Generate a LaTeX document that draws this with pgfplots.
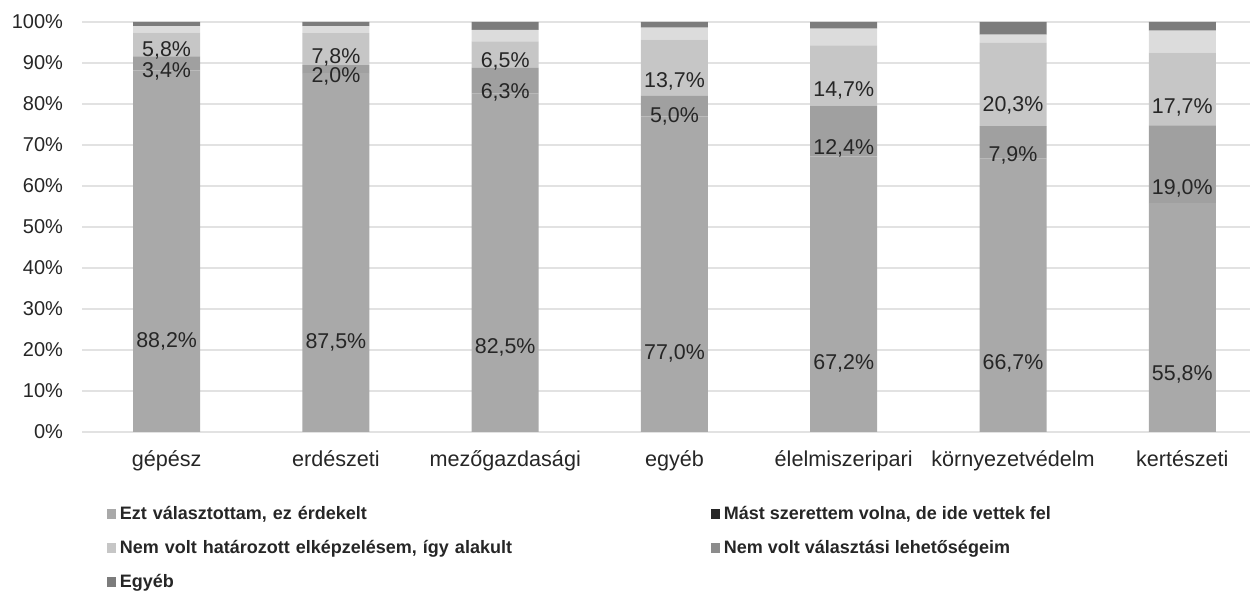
\documentclass[border=0pt]{standalone}
\usepackage{pgfplots}
\pgfplotsset{compat=1.18}
\usepackage{fontspec}
\setmainfont{Liberation Sans}
\definecolor{cA}{HTML}{A9A9A9}
\definecolor{cB}{HTML}{A0A0A0}
\definecolor{cC}{HTML}{C6C6C6}
\definecolor{cD}{HTML}{DCDCDC}
\definecolor{cE}{HTML}{7C7C7C}
\definecolor{gridc}{HTML}{E2E2E2}
\definecolor{txt}{HTML}{262626}
\begin{document}
\begin{tikzpicture}
\begin{axis}[
  name=ax,
  scale only axis,
  width=584pt, height=205pt,
  ybar stacked,
  bar width=33.5pt,
  xmin=-0.5, xmax=6.4,
  ymin=0, ymax=100,
  xtick={0,1,2,3,4,5,6},
  xticklabels={gépész,erdészeti,mezőgazdasági,egyéb,élelmiszeripari,környezetvédelm,kertészeti},
  ytick={0,10,...,100},
  yticklabel={\pgfmathprintnumber{\tick}\%},
  /pgf/number format/assume math mode=true,
  tick label style={font=\fontsize{10}{11}\selectfont, text=txt},
  xticklabel style={yshift=-6pt, font=\fontsize{10.8}{12}\selectfont},
  yticklabel style={xshift=-6pt},
  axis line style={draw=none},
  major tick length=0pt,
  ymajorgrids,
  major grid style={gridc, line width=0.7pt},
  legend columns=2,
  legend cell align=left,
  legend style={at={(0.021,-0.17)}, anchor=north west, draw=none, fill=none,
    font=\bfseries\fontsize{9}{10}\selectfont, text=txt, row sep=5pt, inner sep=0pt,
    /tikz/column 2/.style={text width=293.5pt}},
  legend image code/.code={\fill[#1] (0pt,-2.2pt) rectangle (4.5pt,2.8pt);},
  nodes near coords={\pgfmathprintnumber[fixed,fixed zerofill,precision=1,use comma,assume math mode=true]{\pgfplotspointmeta}\%},
  visualization depends on=rawy\as\rawy,
  every node near coord/.append style={font=\fontsize{10.7}{11}\selectfont, text=txt, anchor=center, inner sep=0pt, yshift=-0.25*\rawy*\pgfplotsunitylength},
]
\addplot[fill=cA, draw=none] coordinates {(0,88.2) (1,87.5) (2,82.5) (3,77.0) (4,67.2) (5,66.7) (6,55.8)};
\addlegendentry{Ezt választottam, ez érdekelt}
\addplot[fill=cB, draw=none, every node near coord/.append style={yshift=-2.5pt}, legend image code/.code={\fill[black!85] (0pt,-2.2pt) rectangle (4.5pt,2.8pt);}] coordinates {(0,3.4) (1,2.0) (2,6.3) (3,5.0) (4,12.4) (5,7.9) (6,19.0)};
\addlegendentry{Mást szerettem volna, de ide vettek fel}
\addplot[fill=cC, draw=none] coordinates {(0,5.8) (1,7.8) (2,6.5) (3,13.7) (4,14.7) (5,20.3) (6,17.7)};
\addlegendentry{Nem volt határozott elképzelésem, így alakult}
\addplot[fill=cD, draw=none, nodes near coords=, legend image code/.code={\fill[black!45] (0pt,-2.2pt) rectangle (4.5pt,2.8pt);}] coordinates {(0,1.6) (1,1.7) (2,2.8) (3,2.9) (4,4.1) (5,2.0) (6,5.4)};
\addlegendentry{Nem volt választási lehetőségeim}
\addplot[fill=cE, draw=none, nodes near coords=] coordinates {(0,1.0) (1,1.0) (2,1.9) (3,1.4) (4,1.6) (5,3.1) (6,2.1)};
\addlegendentry{Egyéb}
\end{axis}
\pgfresetboundingbox
\path ([shift={(-41pt,-80.5pt)}]ax.south west) rectangle ([shift={(1pt,11pt)}]ax.north east);
\end{tikzpicture}
\end{document}
